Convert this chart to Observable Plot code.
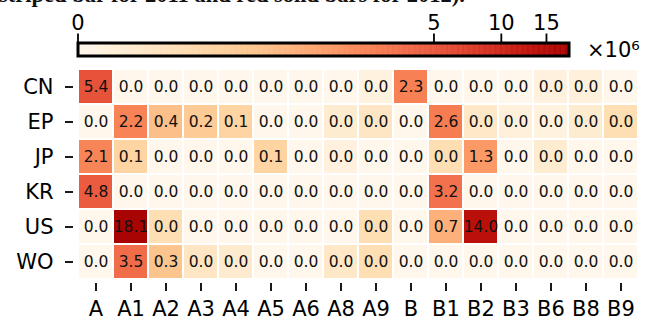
<!DOCTYPE html>
<html><head><meta charset="utf-8">
<script src="https://cdn.jsdelivr.net/npm/d3@7"></script>
<script src="https://cdn.jsdelivr.net/npm/@observablehq/plot@0.6"></script>
<style>
body{margin:0;background:#fff;}
#wrap{position:relative;width:646px;height:320px;overflow:hidden;background:#fff;}
#wrap svg{position:absolute;left:0;top:0;}
#title{position:absolute;left:-1px;top:-18px;font:bold 22.5px "Liberation Serif";white-space:nowrap;color:#111;z-index:3;}
</style></head><body>
<div id="wrap"><div id="title">striped bar for 2011 and red solid bars for 2012).</div></div>
<script>
const cols = ["A","A1","A2","A3","A4","A5","A6","A8","A9","B","B1","B2","B3","B6","B8","B9"];
const rows = ["CN","EP","JP","KR","US","WO"];
// values in millions
const CN = [5.4, 0, 0, 0, 0, 0, 0, 0, 0.0001, 2.3, 0, 0, 0, 0.0002, 0.0003, 0];
const EP = [0, 2.2, 0.4, 0.2, 0.1, 0, 0, 0.002, 0.008, 0, 2.6, 0.006, 0.0003, 0.0001, 0.002, 0.035];
const JP = [2.1, 0.1, 0, 0, 0, 0.1, 0, 0.0002, 0, 0, 0.035, 1.3, 0, 0.002, 0, 0];
const KR = [4.8, 0, 0, 0, 0, 0, 0, 0, 0, 0, 3.2, 0, 0, 0, 0, 0];
const US = [0, 18.1, 0.035, 0, 0, 0, 0, 0, 0.035, 0, 0.7, 14.0, 0, 0, 0, 0];
const WO = [0, 3.5, 0.3, 0.01, 0.003, 0, 0, 0.006, 0.035, 0, 0, 0, 0, 0, 0, 0];
const cbTicks = [0, 5, 10, 15];
const vmax = 18.1;

const values = [CN, EP, JP, KR, US, WO];
const data = rows.flatMap((r, i) => values[i].map((v, j) => ({row: r, col: cols[j], v})));

const colorOpts = {type: "pow", exponent: 0.25, domain: [0, vmax], interpolate: t => d3.interpolateOrRd(0.9 * t)};
const font = {fontFamily: "DejaVu Sans", background: "transparent", color: "#000"};

const heat = Plot.plot({
  width: 646, height: 320,
  marginLeft: 75, marginRight: 5, marginTop: 68, marginBottom: 40,
  style: font,
  x: {domain: cols, padding: 0, axis: null},
  y: {domain: rows, padding: 0, axis: null},
  color: colorOpts,
  marks: [
    Plot.cell(data, {x: "col", y: "row", fill: "v", inset: 1}),
    Plot.text(data, {x: "col", y: "row", text: d => d.v.toFixed(1), fontSize: 15.5, fill: "#111"}),
    Plot.axisX({tickSize: 8, tickPadding: 10, dy: 3, fontSize: 21, strokeWidth: 1.8, label: null}),
    Plot.axisY({tickSize: 8, tickPadding: 12, dx: -2, fontSize: 21, strokeWidth: 1.8, label: null})
  ]
});

const steps = d3.range(0, 401).map(i => i / 400);
const grad = steps.slice(0, -1).map((t, i) => ({x1: vmax * t ** 4, x2: vmax * steps[i + 1] ** 4, m: vmax * ((t + steps[i + 1]) / 2) ** 4}));

const cbar = Plot.plot({
  width: 646, height: 70,
  marginLeft: 77.5, marginRight: 77.5, marginTop: 42.5, marginBottom: 14.5,
  style: font,
  x: {type: "pow", exponent: 0.25, domain: [0, vmax], axis: null},
  color: colorOpts,
  marks: [
    Plot.rect(grad, {x1: "x1", x2: "x2", fill: "m", stroke: "m", strokeWidth: 0.6}),
    Plot.frame({stroke: "black", strokeWidth: 3}),
    Plot.axisX(cbTicks, {anchor: "top", tickSize: 10, tickPadding: 3, fontSize: 21, strokeWidth: 1.8, label: null}),
    Plot.text(["×10⁶"], {text: d => d, frameAnchor: "right", dx: 18, dy: 1, textAnchor: "start", fontSize: 21})
  ]
});

const wrap = document.getElementById("wrap");
wrap.appendChild(heat);
wrap.appendChild(cbar);
</script>
</body></html>
